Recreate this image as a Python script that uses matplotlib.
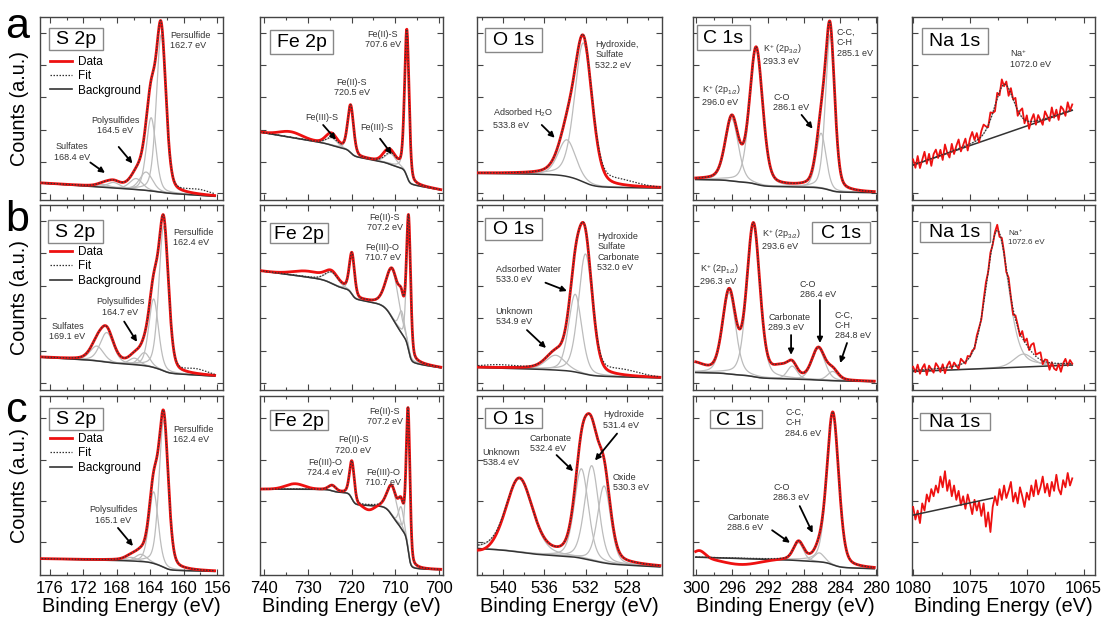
import numpy as np
import matplotlib
matplotlib.use("Agg")
import matplotlib.pyplot as plt
from matplotlib.patches import Rectangle
from matplotlib.lines import Line2D
from matplotlib.ticker import MultipleLocator, FixedLocator, NullFormatter

plt.rcParams['font.family'] = ['Liberation Sans', 'DejaVu Sans']
plt.rcParams['mathtext.fontset'] = 'custom'
plt.rcParams['mathtext.rm'] = 'Liberation Sans'
plt.rcParams['mathtext.it'] = 'Liberation Sans:italic'
plt.rcParams['mathtext.bf'] = 'Liberation Sans:bold'
plt.rcParams['mathtext.sf'] = 'Liberation Sans'

# ============================ DATA ============================
row_letters = ["a", "b", "c"]
core_levels = ["S 2p", "Fe 2p", "O 1s", "C 1s", "Na 1s"]

s2p_ticks = [176, 172, 168, 164, 160, 156]
fe2p_ticks = [740, 730, 720, 710, 700]
o1s_ticks = [540, 536, 532, 528]
c1s_ticks = [300, 296, 292, 288, 284, 280]
na1s_ticks = [1080, 1075, 1070, 1065]

# recorded energy windows (eV, high -> low binding energy)
s2p_window = (177.0, 156.3)
fe2p_window = (741.0, 699.5)
o1s_window = (542.4, 524.8)
c1s_window = (300.0, 280.2)
na1s_window = (1080.0, 1066.0)

# fitted components: (centre eV, height a.u., FWHM eV)
# background: (level at low-BE end, linear slope per eV, Shirley step)
# ---- row a ----
a_s2p_comps = [(162.7, 0.86, 1.35), (163.9, 0.40, 1.35), (164.5, 0.10, 1.8),
               (165.7, 0.06, 1.8), (168.4, 0.03, 1.8), (169.6, 0.015, 1.8)]
a_s2p_bg = (0.02, 0.003, 0.01)
a_s2p_fit_extra = [(158.3, 0.025, 3.5)]
a_s2p_data_dev = [(158.3, -0.025, 3.5)]
a_s2p_labels = ["Persulfide\n162.7 eV", "Polysulfides\n164.5 eV", "Sulfates\n168.4 eV"]

a_fe2p_comps = [(707.3, 0.80, 1.2), (711.0, 0.06, 3.0), (720.2, 0.26, 1.6), (724.5, 0.04, 3.0)]
a_fe2p_bg = (0.055, 0.004, 0.15)
a_fe2p_fit_extra = []
a_fe2p_data_dev = [(734.0, 0.03, 6.0), (712.0, 0.025, 2.5), (724.8, 0.025, 3.0)]
a_fe2p_labels = ["Fe(II)-S\n707.6 eV", "Fe(II)-S\n720.5 eV", "Fe(III)-S", "Fe(III)-S"]

a_o1s_comps = [(532.2, 0.76, 2.0), (533.8, 0.20, 2.0)]
a_o1s_bg = (0.065, 0.0006, 0.07)
a_o1s_fit_extra = [(528.8, 0.03, 4.0)]
a_o1s_data_dev = [(528.8, -0.03, 4.0)]
a_o1s_labels = ["Hydroxide,\nSulfate\n532.2 eV", "Adsorbed H$_2$O\n533.8 eV"]

a_c1s_comps = [(296.0, 0.34, 1.7), (293.3, 0.74, 1.7), (286.1, 0.30, 1.3), (285.1, 0.85, 1.2)]
a_c1s_bg = (0.04, 0.0006, 0.06)
a_c1s_fit_extra = []
a_c1s_data_dev = []
a_c1s_labels = ["K$^{+}$ (2p$_{3/2}$)\n293.3 eV", "K$^{+}$ (2p$_{1/2}$)\n296.0 eV",
                "C-O\n286.1 eV", "C-C,\nC-H\n285.1 eV"]

a_na1s_comps = [(1072.0, 0.27, 2.0)]
a_na1s_bg = (0.49, -0.0214, 0.0)
a_na1s_fit_extra = []
a_na1s_data_dev = []
a_na1s_noise = [0.03, -0.02, 0.04, -0.03, 0.01, 0.05, -0.02, 0.03, -0.04, 0.02,
                0.04, -0.01, 0.03, -0.03, 0.05, 0.00, -0.03, 0.04, -0.02, 0.02,
                0.05, -0.02, 0.01, 0.04, -0.03, 0.03, 0.06, 0.01, 0.04, -0.02,
                0.03, 0.05, 0.02, -0.01, 0.04, 0.00, -0.03, 0.03, -0.02, 0.04,
                -0.01, 0.02, -0.04, 0.03, 0.00, 0.04, -0.03, 0.02, 0.05, -0.02,
                0.03, -0.04, 0.01, 0.04, -0.02, 0.03, 0.00, -0.03, 0.04, 0.01,
                -0.02, 0.05, -0.01, 0.03, -0.03, 0.04, 0.02, -0.02, 0.05, 0.00, 0.03]
a_na1s_labels = ["Na$^{+}$\n1072.0 eV"]

# ---- row b ----
b_s2p_comps = [(162.4, 0.78, 1.35), (163.6, 0.37, 1.35), (164.7, 0.07, 1.5),
               (165.9, 0.035, 1.5), (169.2, 0.16, 1.9), (170.4, 0.08, 1.9)]
b_s2p_bg = (0.075, 0.0025, 0.05)
b_s2p_fit_extra = [(158.5, 0.025, 3.0)]
b_s2p_data_dev = [(158.5, -0.025, 3.0)]
b_s2p_labels = ["Persulfide\n162.4 eV", "Polysulfides\n164.7 eV", "Sulfates\n169.1 eV"]

b_fe2p_comps = [(706.9, 0.70, 1.1), (708.5, 0.12, 1.5), (710.6, 0.26, 3.4),
                (719.9, 0.22, 1.4), (724.5, 0.06, 3.5)]
b_fe2p_bg = (0.12, 0.003, 0.40)
b_fe2p_fit_extra = []
b_fe2p_data_dev = [(730.0, 0.03, 8.0)]
b_fe2p_labels = ["Fe(II)-S\n707.2 eV", "Fe(III)-O\n710.7 eV"]

b_o1s_comps = [(534.9, 0.08, 2.2), (533.0, 0.42, 1.5), (532.0, 0.65, 1.6)]
b_o1s_bg = (0.065, 0.0015, 0.03)
b_o1s_fit_extra = [(528.5, 0.03, 4.0), (540.5, 0.015, 4.0)]
b_o1s_data_dev = [(528.5, -0.03, 4.0), (540.5, -0.015, 4.0)]
b_o1s_labels = ["Hydroxide\nSulfate\nCarbonate\n532.0 eV", "Adsorbed Water\n533.0 eV",
                "Unknown\n534.9 eV"]

b_c1s_comps = [(296.3, 0.44, 1.7), (293.6, 0.82, 1.7), (289.3, 0.07, 1.3),
               (286.4, 0.17, 1.7), (284.8, 0.05, 1.4)]
b_c1s_bg = (0.045, 0.001, 0.03)
b_c1s_fit_extra = [(290.6, 0.05, 2.0), (300.5, 0.05, 3.0)]
b_c1s_data_dev = []
b_c1s_labels = ["K$^{+}$ (2p$_{3/2}$)\n293.6 eV", "K$^{+}$ (2p$_{1/2}$)\n296.3 eV",
                "Carbonate\n289.3 eV", "C-O\n286.4 eV", "C-C,\nC-H\n284.8 eV"]

b_na1s_comps = [(1072.6, 0.74, 2.3), (1070.3, 0.07, 2.0)]
b_na1s_bg = (0.135, -0.0025, 0.0)
b_na1s_fit_extra = []
b_na1s_data_dev = [(1069.3, 0.03, 1.5), (1067.6, -0.03, 1.2)]
b_na1s_noise = [0.02, -0.01, 0.03, -0.02, 0.01, 0.03, -0.03, 0.02, 0.00, -0.02,
                0.03, 0.01, -0.02, 0.02, -0.03, 0.01, 0.03, -0.01, 0.02, 0.00,
                -0.02, 0.03, 0.01, -0.01, 0.02, 0.00, 0.01, -0.01, 0.02, 0.01,
                -0.01, 0.02, 0.03, 0.00, 0.02, -0.01, 0.01, 0.03, -0.02, 0.02,
                0.01, -0.02, 0.03, 0.00, -0.03, 0.02, 0.01, -0.02, 0.03, -0.01,
                0.02, -0.03, 0.01, 0.03, -0.02, 0.00, 0.02, -0.03, 0.01, 0.02,
                -0.02, 0.03, 0.00, -0.01, 0.02, -0.03, 0.01, 0.03, -0.01, 0.02, 0.00]
b_na1s_labels = ["Na$^{+}$\n1072.6 eV"]

# ---- row c ----
c_s2p_comps = [(162.4, 0.82, 1.3), (163.6, 0.40, 1.3), (165.1, 0.04, 1.6), (166.3, 0.02, 1.6)]
c_s2p_bg = (0.02, 0.001, 0.05)
c_s2p_fit_extra = []
c_s2p_data_dev = []
c_s2p_labels = ["Persulfide\n162.4 eV", "Polysulfides\n165.1 eV"]

c_fe2p_comps = [(707.0, 0.78, 1.0), (708.6, 0.12, 1.4), (710.7, 0.16, 2.6),
                (719.9, 0.21, 1.3), (724.4, 0.03, 2.0)]
c_fe2p_bg = (0.03, 0.0, 0.45)
c_fe2p_fit_extra = []
c_fe2p_data_dev = [(733.0, 0.03, 5.0), (716.0, -0.03, 3.0)]
c_fe2p_labels = ["Fe(II)-S\n707.2 eV", "Fe(II)-S\n720.0 eV", "Fe(III)-O\n724.4 eV",
                 "Fe(III)-O\n710.7 eV"]

c_o1s_comps = [(538.4, 0.41, 3.0), (532.4, 0.50, 1.6), (531.4, 0.53, 1.6), (530.2, 0.43, 1.5)]
c_o1s_bg = (0.045, 0.003, 0.05)
c_o1s_fit_extra = []
c_o1s_data_dev = [(542.0, -0.03, 3.0)]
c_o1s_labels = ["Hydroxide\n531.4 eV", "Carbonate\n532.4 eV", "Unknown\n538.4 eV",
                "Oxide\n530.3 eV"]

c_c1s_comps = [(288.6, 0.10, 1.3), (286.3, 0.05, 1.3), (284.8, 0.85, 1.55)]
c_c1s_bg = (0.035, 0.0015, 0.035)
c_c1s_fit_extra = []
c_c1s_data_dev = [(299.6, 0.04, 1.5), (295.0, -0.035, 5.0)]
c_c1s_labels = ["C-C,\nC-H\n284.6 eV", "C-O\n286.3 eV", "Carbonate\n288.6 eV"]

c_na1s_bg_window = (1080.0, 1073.0)
c_na1s_bg = (0.43, -0.0136, 0.0)
c_na1s_counts = [0.38, 0.31, 0.36, 0.29, 0.40, 0.36, 0.45, 0.41, 0.48, 0.44,
                 0.50, 0.46, 0.55, 0.49, 0.58, 0.47, 0.53, 0.44, 0.50, 0.42,
                 0.47, 0.39, 0.44, 0.37, 0.45, 0.40, 0.34, 0.42, 0.36, 0.41,
                 0.33, 0.40, 0.27, 0.35, 0.24, 0.38, 0.44, 0.39, 0.48, 0.42,
                 0.50, 0.43, 0.47, 0.52, 0.41, 0.46, 0.40, 0.49, 0.44, 0.38,
                 0.46, 0.42, 0.50, 0.44, 0.53, 0.45, 0.49, 0.55, 0.46, 0.51,
                 0.44, 0.52, 0.47, 0.56, 0.48, 0.45, 0.53, 0.49, 0.57, 0.50, 0.54]

# ============================ LAYOUT ============================
FIG_W, FIG_H = 1103, 621
col_left_px = [40, 260, 477, 693, 912]
col_width_px = [183, 183, 185, 184, 183]
row_top_px = [17, 205, 396]
row_bot_px = [200, 390, 575]
xlims = [(177.2, 155.3), (741.0, 699.0), (542.5, 524.6), (300.3, 279.9), (1080.1, 1064.0)]
xticks = [s2p_ticks, fe2p_ticks, o1s_ticks, c1s_ticks, na1s_ticks]
xminor = [2, 5, 2, 2, 2.5]
windows = [s2p_window, fe2p_window, o1s_window, c1s_window, na1s_window]
yticks_rows = [[0.038, 0.208, 0.383, 0.563, 0.738, 0.913],
               [0.038, 0.213, 0.388, 0.563, 0.738, 0.913],
               [0.184, 0.415, 0.645, 0.876]]
legend_anchor_y = [0.788, 0.778, 0.793]
letter_baseline_px = [38, 231, 422]

# title boxes (x0, x1, y0, y1) in axes fraction
boxes = [
    [(0.049, 0.344, 0.82, 0.94), (0.055, 0.40, 0.80, 0.93), (0.043, 0.35, 0.81, 0.94),
     (0.022, 0.31, 0.82, 0.956), (0.055, 0.415, 0.80, 0.94)],
    [(0.044, 0.344, 0.795, 0.92), (0.055, 0.37, 0.795, 0.90), (0.043, 0.35, 0.81, 0.93),
     (0.647, 0.962, 0.795, 0.91), (0.044, 0.426, 0.80, 0.91)],
    [(0.049, 0.344, 0.81, 0.933), (0.055, 0.37, 0.81, 0.92), (0.043, 0.35, 0.82, 0.933),
     (0.092, 0.375, 0.82, 0.92), (0.044, 0.426, 0.81, 0.905)],
]

# label layout: (x, y, ha, arrow_from_to or None), in axes fraction
label_pos = {
    (0, 0): [(0.71, 0.925, 'left', None),
             (0.41, 0.46, 'center', (0.43, 0.29, 0.505, 0.20)),
             (0.175, 0.315, 'center', (0.275, 0.205, 0.355, 0.148))],
    (0, 1): [(0.67, 0.93, 'center', None), (0.50, 0.667, 'center', None),
             (0.34, 0.475, 'center', (0.345, 0.41, 0.415, 0.33)),
             (0.64, 0.42, 'center', (0.656, 0.335, 0.72, 0.25))],
    (0, 2): [(0.64, 0.875, 'left', None),
             (0.086, 0.51, 'left', (0.35, 0.41, 0.42, 0.34))],
    (0, 3): [(0.38, 0.863, 'left', None), (0.05, 0.64, 'left', None),
             (0.435, 0.585, 'left', (0.59, 0.465, 0.65, 0.39)),
             (0.78, 0.94, 'left', None)],
    (0, 4): [(0.535, 0.835, 'left', None)],
    (1, 0): [(0.727, 0.876, 'left', None),
             (0.44, 0.50, 'center', (0.46, 0.37, 0.53, 0.26)),
             (0.15, 0.37, 'center', None)],
    (1, 1): [(0.683, 0.957, 'center', None), (0.67, 0.795, 'center', None)],
    (1, 2): [(0.65, 0.854, 'left', None),
             (0.10, 0.676, 'left', (0.37, 0.58, 0.486, 0.535)),
             (0.10, 0.45, 'left', (0.27, 0.324, 0.373, 0.227))],
    (1, 3): [(0.375, 0.88, 'left', None), (0.04, 0.69, 'left', None),
             (0.41, 0.416, 'left', (0.533, 0.297, 0.533, 0.19)),
             (0.58, 0.595, 'left', (0.69, 0.486, 0.69, 0.254)),
             (0.77, 0.43, 'left', (0.837, 0.254, 0.80, 0.146))],
    (1, 4): [(0.525, 0.876, 'left', None)],
    (2, 0): [(0.727, 0.838, 'left', None),
             (0.40, 0.39, 'center', (0.426, 0.263, 0.508, 0.162))],
    (2, 1): [(0.683, 0.94, 'center', None), (0.51, 0.78, 'center', None),
             (0.355, 0.655, 'center', None), (0.672, 0.60, 'center', None)],
    (2, 2): [(0.68, 0.92, 'left', (0.757, 0.79, 0.638, 0.64)),
             (0.286, 0.79, 'left', (0.43, 0.67, 0.52, 0.58)),
             (0.03, 0.71, 'left', None), (0.735, 0.57, 'left', None)],
    (2, 3): [(0.50, 0.933, 'left', None),
             (0.435, 0.514, 'left', (0.58, 0.385, 0.65, 0.235)),
             (0.185, 0.346, 'left', (0.43, 0.25, 0.527, 0.18))],
}

panels = {
    (0, 0): (a_s2p_comps, a_s2p_bg, a_s2p_fit_extra, a_s2p_data_dev, None, a_s2p_labels),
    (0, 1): (a_fe2p_comps, a_fe2p_bg, a_fe2p_fit_extra, a_fe2p_data_dev, None, a_fe2p_labels),
    (0, 2): (a_o1s_comps, a_o1s_bg, a_o1s_fit_extra, a_o1s_data_dev, None, a_o1s_labels),
    (0, 3): (a_c1s_comps, a_c1s_bg, a_c1s_fit_extra, a_c1s_data_dev, None, a_c1s_labels),
    (0, 4): (a_na1s_comps, a_na1s_bg, a_na1s_fit_extra, a_na1s_data_dev, a_na1s_noise, a_na1s_labels),
    (1, 0): (b_s2p_comps, b_s2p_bg, b_s2p_fit_extra, b_s2p_data_dev, None, b_s2p_labels),
    (1, 1): (b_fe2p_comps, b_fe2p_bg, b_fe2p_fit_extra, b_fe2p_data_dev, None, b_fe2p_labels),
    (1, 2): (b_o1s_comps, b_o1s_bg, b_o1s_fit_extra, b_o1s_data_dev, None, b_o1s_labels),
    (1, 3): (b_c1s_comps, b_c1s_bg, b_c1s_fit_extra, b_c1s_data_dev, None, b_c1s_labels),
    (1, 4): (b_na1s_comps, b_na1s_bg, b_na1s_fit_extra, b_na1s_data_dev, b_na1s_noise, b_na1s_labels),
    (2, 0): (c_s2p_comps, c_s2p_bg, c_s2p_fit_extra, c_s2p_data_dev, None, c_s2p_labels),
    (2, 1): (c_fe2p_comps, c_fe2p_bg, c_fe2p_fit_extra, c_fe2p_data_dev, None, c_fe2p_labels),
    (2, 2): (c_o1s_comps, c_o1s_bg, c_o1s_fit_extra, c_o1s_data_dev, None, c_o1s_labels),
    (2, 3): (c_c1s_comps, c_c1s_bg, c_c1s_fit_extra, c_c1s_data_dev, None, c_c1s_labels),
}

RED = '#ee1111'
DARK = '#333333'
COMP = '#bcbcbc'
FRAME = '#444444'


def pv(E, c, h, w, eta=0.3):
    x = (E - c) / w
    return h * ((1 - eta) * np.exp(-4 * np.log(2) * x ** 2) + eta / (1 + 4 * x ** 2))


def gauss_terms(E, terms):
    out = np.zeros_like(E)
    for c, h, w in terms:
        out = out + pv(E, c, h, w, eta=0.0)
    return out


def shirley_bg(E, peaks, b_lo, slope, step):
    order = np.argsort(E)
    Ea, Pa = E[order], peaks[order]
    cum = np.concatenate([[0.0], np.cumsum(0.5 * (Pa[1:] + Pa[:-1]) * np.diff(Ea))])
    S = cum / cum[-1] if cum[-1] > 0 else np.zeros_like(cum)
    bga = b_lo + slope * (Ea - Ea[0]) + step * S
    bg = np.empty_like(E)
    bg[order] = bga
    return bg


def model(E, comps, bg, fit_extra):
    peaks = np.zeros_like(E)
    for c, h, w in comps:
        peaks = peaks + pv(E, c, h, w)
    b = shirley_bg(E, peaks, *bg)
    return b, b + peaks + gauss_terms(E, fit_extra)


fig = plt.figure(figsize=(FIG_W / 100, FIG_H / 100), dpi=100)
fig.patch.set_facecolor('white')

for r in range(3):
    for c in range(5):
        left = col_left_px[c] / FIG_W
        width = col_width_px[c] / FIG_W
        bottom = 1 - row_bot_px[r] / FIG_H
        height = (row_bot_px[r] - row_top_px[r]) / FIG_H
        ax = fig.add_axes([left, bottom, width, height])
        hi, lo = windows[c]

        if (r, c) in panels:
            comps, bg, fit_extra, data_dev, noise, labels = panels[(r, c)]
            E = np.linspace(hi, lo, 900)
            b, fit = model(E, comps, bg, fit_extra)
            for comp in comps:
                ax.plot(E, b + pv(E, *comp), color=COMP, lw=0.9, zorder=1)
            ax.plot(E, b, color=DARK, lw=1.1, zorder=2)
            if noise is not None:
                En = np.linspace(hi, lo, len(noise))
                bn, fn = model(En, comps, bg, fit_extra)
                dn = fn + gauss_terms(En, data_dev) + np.array(noise)
                ax.plot(En, dn, color=RED, lw=1.3, zorder=3)
            else:
                data = fit + gauss_terms(E, data_dev)
                ax.plot(E, data, color=RED, lw=2.0, zorder=3)
            ax.plot(E, fit, color=DARK, lw=0.9, ls=(0, (1.2, 1.2)), zorder=4)

            fs = 5.8 if (r, c) == (1, 4) else 6.5
            for txt, (x, y, ha, arr) in zip(labels, label_pos[(r, c)]):
                ax.text(x, y, txt, transform=ax.transAxes, ha=ha, va='top',
                        fontsize=fs, color='#333333', linespacing=1.2, zorder=6)
                if arr is not None:
                    ax.annotate('', xy=(arr[2], arr[3]), xytext=(arr[0], arr[1]),
                                xycoords='axes fraction', textcoords='axes fraction',
                                arrowprops=dict(arrowstyle='-|>', color='black', lw=1.3,
                                                mutation_scale=8, shrinkA=0, shrinkB=0),
                                zorder=7)
        else:
            # row c, Na 1s: noisy counts with a short linear background
            En = np.linspace(hi, lo, len(c_na1s_counts))
            ax.plot(En, c_na1s_counts, color=RED, lw=1.3, zorder=3)
            Eb = np.linspace(c_na1s_bg_window[0], c_na1s_bg_window[1], 100)
            bb = shirley_bg(Eb, np.zeros_like(Eb), *c_na1s_bg)
            ax.plot(Eb, bb, color=DARK, lw=1.1, zorder=4)

        # title box
        x0, x1, y0, y1 = boxes[r][c]
        ax.add_patch(Rectangle((x0, y0), x1 - x0, y1 - y0, transform=ax.transAxes,
                               facecolor='white', edgecolor='#888888', lw=1.0, zorder=8))
        ax.text((x0 + x1) / 2, (y0 + y1) / 2 - 0.005, core_levels[c], transform=ax.transAxes,
                ha='center', va='center', fontsize=14, color='black', zorder=9)

        if c == 0:
            handles = [Line2D([], [], color=RED, lw=2.0),
                       Line2D([], [], color=DARK, lw=0.9, ls=(0, (1.2, 1.2))),
                       Line2D([], [], color=DARK, lw=1.2)]
            ax.legend(handles, ['Data', 'Fit', 'Background'], loc='upper left',
                      bbox_to_anchor=(0.055, legend_anchor_y[r]), frameon=False,
                      fontsize=8.5, handlelength=1.85, handletextpad=0.5,
                      labelspacing=0.2, borderpad=0, borderaxespad=0)
            ax.set_ylabel('Counts (a.u.)', fontsize=14.3)
            ax.yaxis.set_label_coords(-0.06, 0.5)

        ax.set_xlim(*xlims[c])
        ax.set_ylim(0, 1)
        ax.xaxis.set_major_locator(FixedLocator(xticks[c]))
        ax.xaxis.set_minor_locator(MultipleLocator(xminor[c]))
        ax.yaxis.set_major_locator(FixedLocator(yticks_rows[r]))
        ax.yaxis.set_major_formatter(NullFormatter())
        ax.tick_params(axis='both', which='both', direction='in', top=True, right=True,
                       color=FRAME, width=0.8)
        ax.tick_params(axis='both', which='major', length=4)
        ax.tick_params(axis='x', which='minor', length=2)
        ax.tick_params(axis='x', labelsize=12, pad=4)
        if r < 2:
            ax.xaxis.set_major_formatter(NullFormatter())
        else:
            ax.set_xlabel('Binding Energy (eV)', fontsize=14.3, labelpad=1)
        for sp in ax.spines.values():
            sp.set_color(FRAME)
            sp.set_linewidth(1.0)

for r in range(3):
    fig.text(5 / FIG_W, 1 - letter_baseline_px[r] / FIG_H, row_letters[r], fontsize=31,
             ha='left', va='baseline', color='black')

fig.savefig('out.png', dpi=100, facecolor='white')
